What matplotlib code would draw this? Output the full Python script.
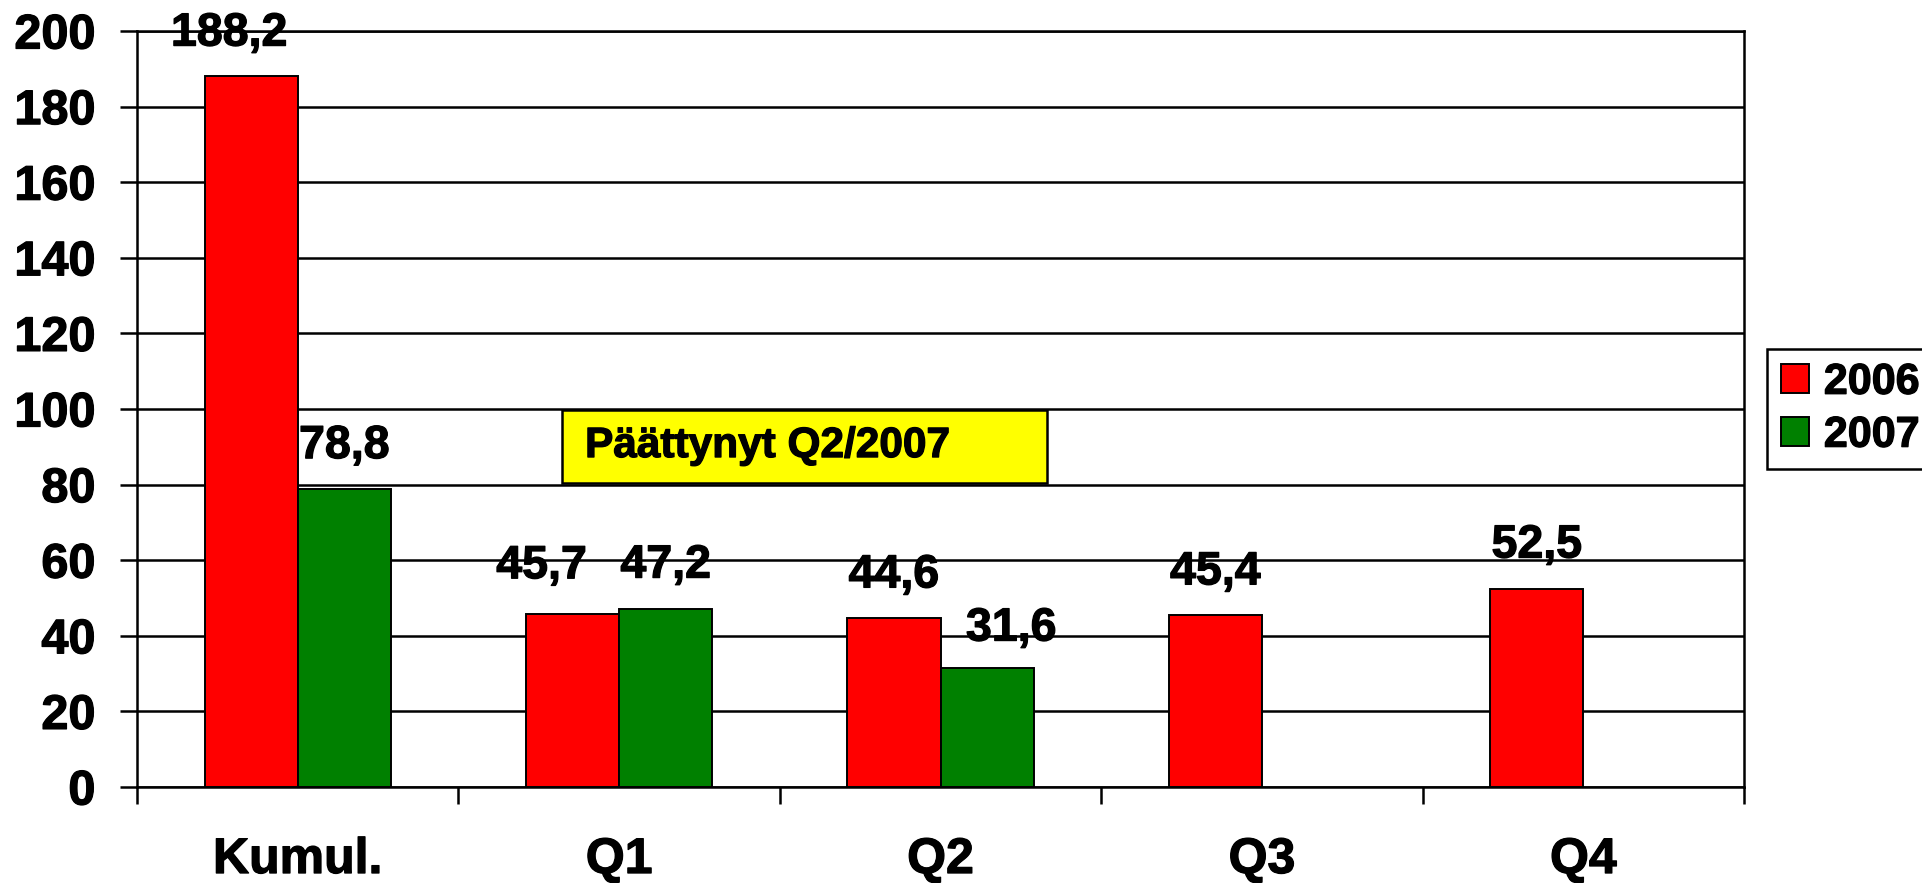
import numpy as np
import matplotlib
matplotlib.use("Agg")
import matplotlib.pyplot as plt
import matplotlib.patheffects as pe
from matplotlib.patches import Rectangle

plt.rcParams["font.family"] = ["Liberation Sans", "DejaVu Sans"]
plt.rcParams["font.weight"] = "bold"

CATEGORIES = ["Kumul.", "Q1", "Q2", "Q3", "Q4"]
SERIES = ["2006", "2007"]
VALUES_2006 = [188.2, 45.7, 44.6, 45.4, 52.5]
VALUES_2007 = [78.8, 47.2, 31.6, np.nan, np.nan]
COLORS = ["#ff0000", "#008000"]
NOTE = "Päättynyt Q2/2007"

BAR_W = 0.29
# label nudges (pixels) where the original labels sit off-centre
NUDGE = {(0, 0): (-22, 42), (0, 1): (-31, 48), (1, 2): (24, 39)}
HEAVY = [pe.withStroke(linewidth=0.9, foreground="black")]


def main():
    fig = plt.figure(figsize=(19.22, 8.83), dpi=100)
    ax = fig.add_axes([0.0713, 0.1087, 0.9074 - 0.0713, 0.9649 - 0.1087])

    x = np.arange(len(CATEGORIES)) + 0.5
    handles = []
    for k, (vals, col) in enumerate(zip([VALUES_2006, VALUES_2007], COLORS)):
        xs = x + (k - 0.5) * BAR_W
        b = ax.bar(xs, vals, width=BAR_W, color=col, edgecolor="black",
                   linewidth=1.4, zorder=3, label=SERIES[k])
        handles.append(b)
        for i, v in enumerate(vals):
            if not np.isfinite(v):
                continue
            dx, dy = NUDGE.get((k, i), (0, 43))
            ax.annotate(f"{v:.1f}".replace(".", ","), (xs[i], v),
                        xytext=(dx, dy), textcoords="offset pixels",
                        ha="center", va="center", fontsize=33.5,
                        fontweight="bold", zorder=5, annotation_clip=False,
                        path_effects=HEAVY)

    ax.set_xlim(0, len(CATEGORIES))
    ax.set_ylim(0, 200)
    ax.set_yticks(np.arange(0, 201, 20))
    ax.yaxis.grid(True, color="black", linewidth=1.8, zorder=0)
    ax.set_axisbelow(True)

    ax.set_xticks(np.arange(len(CATEGORIES) + 1))
    ax.set_xticklabels([])
    ax.set_xticks(x, minor=True)
    ax.set_xticklabels(CATEGORIES, minor=True)
    ax.tick_params(axis="x", which="major", direction="out", length=12, width=1.8)
    ax.tick_params(axis="x", which="minor", length=0, pad=36, labelsize=36)
    ax.tick_params(axis="y", direction="out", length=12, width=1.8, pad=18,
                   labelsize=35)
    for lab in ax.get_xticklabels(minor=True) + ax.get_yticklabels():
        lab.set_fontweight("bold")
        lab.set_path_effects(HEAVY)
    for sp in ax.spines.values():
        sp.set_linewidth(1.8)

    # note box
    ax.add_patch(Rectangle((1.322, 80.4), 2.831 - 1.322, 99.7 - 80.4,
                           facecolor="#ffff00", edgecolor="black",
                           linewidth=1.8, zorder=4))
    ax.text(1.394, 90.2, NOTE, ha="left", va="center", fontsize=30.5,
            fontweight="bold", zorder=5, path_effects=HEAVY)

    leg = fig.legend(handles=handles, loc="upper left",
                     bbox_to_anchor=(1767 / 1922, 1 - 349 / 883),
                     frameon=True, fancybox=False, edgecolor="black",
                     framealpha=1.0, fontsize=31, handlelength=0.65,
                     handleheight=0.65, handletextpad=0.35, borderpad=0.32,
                     labelspacing=0.3, borderaxespad=0)
    leg.get_frame().set_linewidth(1.8)
    for t in leg.get_texts():
        t.set_fontweight("bold")
        t.set_path_effects(HEAVY)

    fig.savefig("out.png", dpi=100)


if __name__ == "__main__":
    main()
